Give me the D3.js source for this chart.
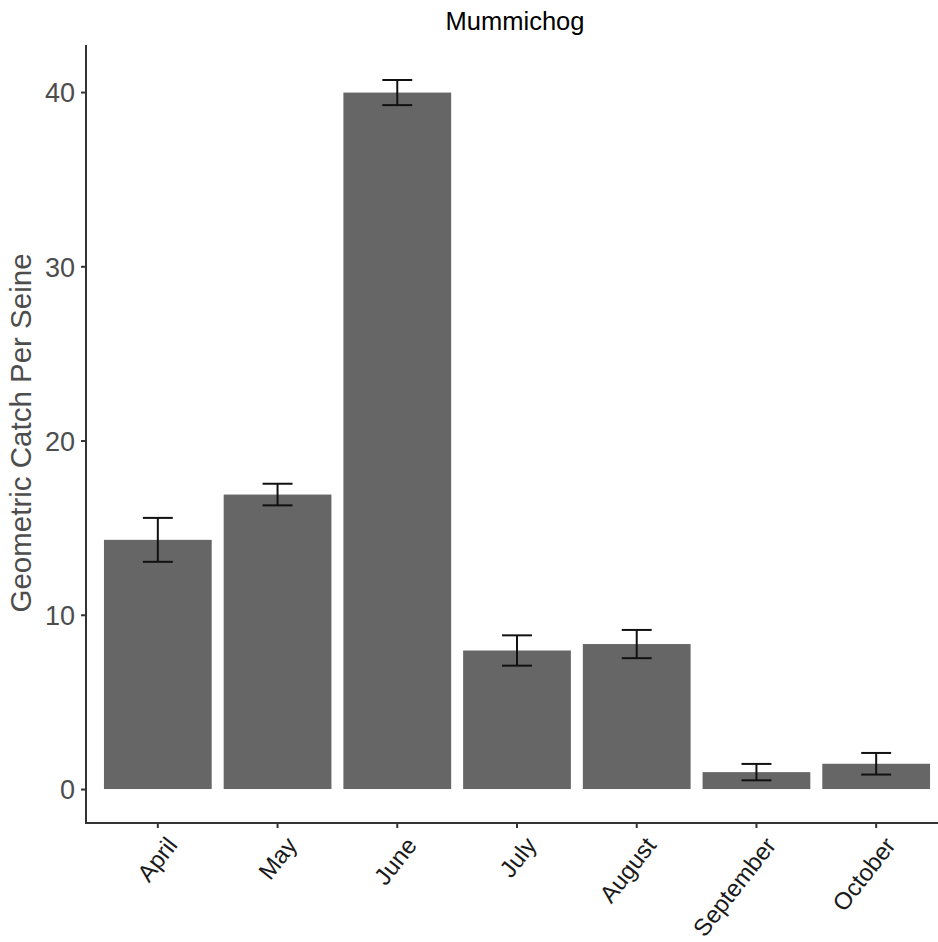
<!DOCTYPE html>
<html>
<head>
<meta charset="utf-8">
<script src="https://cdn.jsdelivr.net/npm/d3@7"></script>
<style>
  html, body { margin: 0; padding: 0; background: #fff; }
  svg { display: block; font-family: "Liberation Sans", Arial, sans-serif; }
</style>
</head>
<body>
<svg id="chart" width="938" height="942"></svg>
<script>
// Monthly geometric mean catch per seine haul, with standard error
const months = ["April", "May", "June", "July", "August", "September", "October"];
const catchMean = [14.3, 16.9, 39.97, 7.95, 8.32, 0.97, 1.45];
const catchSE = [1.26, 0.62, 0.72, 0.87, 0.81, 0.47, 0.62];
const yTicks = [0, 10, 20, 30, 40];

const chartTitle = "Mummichog";
const yTitle = "Geometric Catch Per Seine";

const W = 938, H = 942;
const panel = { left: 86, top: 45, bottom: 823, right: 948 };

const svg = d3.select("#chart");

const x = d3.scaleBand()
  .domain(months)
  .range([panel.left, panel.right])
  .paddingInner(0.1)
  .paddingOuter(0.15);

const y = d3.scaleLinear()
  .domain([-1.95, 42.7])
  .range([panel.bottom, panel.top]);

const data = months.map((m, i) => ({ month: m, mean: catchMean[i], se: catchSE[i] }));

// Bars
svg.append("g")
  .selectAll("rect")
  .data(data)
  .join("rect")
  .attr("x", d => x(d.month))
  .attr("width", x.bandwidth())
  .attr("y", d => y(d.mean))
  .attr("height", d => y(0) - y(d.mean))
  .attr("fill", "#666666");

// Error bars
const capHalf = x.step() * 0.125;
const eb = svg.append("g")
  .attr("stroke", "#111")
  .attr("stroke-width", 2)
  .attr("fill", "none");
data.forEach(d => {
  const cx = x(d.month) + x.bandwidth() / 2;
  const lo = y(d.mean - d.se), hi = y(d.mean + d.se);
  eb.append("line").attr("x1", cx).attr("x2", cx).attr("y1", lo).attr("y2", hi);
  eb.append("line").attr("x1", cx - capHalf).attr("x2", cx + capHalf).attr("y1", lo).attr("y2", lo);
  eb.append("line").attr("x1", cx - capHalf).attr("x2", cx + capHalf).attr("y1", hi).attr("y2", hi);
});

// Y axis
const yAxis = svg.append("g")
  .attr("transform", `translate(${panel.left},0)`)
  .call(d3.axisLeft(y).tickValues(yTicks).tickSize(5).tickPadding(6).tickFormat(d3.format("d")));
yAxis.select(".domain").attr("stroke", "#333").attr("stroke-width", 2)
  .attr("d", `M0,${panel.top}V${panel.bottom + 1}`);
yAxis.selectAll(".tick line").attr("stroke", "#333").attr("stroke-width", 2);
yAxis.selectAll(".tick text")
  .attr("fill", "#4d4d4d")
  .style("font-size", "27px")
  .attr("dy", "0.36em");

// X axis
const xAxis = svg.append("g")
  .attr("transform", `translate(0,${panel.bottom})`)
  .call(d3.axisBottom(x).tickSize(5).tickSizeOuter(0));
xAxis.select(".domain").attr("stroke", "#333").attr("stroke-width", 2)
  .attr("d", `M${panel.left - 1},0H${W}`);
xAxis.selectAll(".tick line").attr("stroke", "#333").attr("stroke-width", 2);
xAxis.selectAll(".tick text")
  .attr("fill", "#1a1a1a")
  .style("font-size", "24px")
  .attr("text-anchor", "end")
  .attr("dy", "0.72em")
  .attr("y", 0)
  .attr("transform", "translate(7,12) rotate(-52)");

// Titles
svg.append("text")
  .attr("x", 515)
  .attr("y", 30)
  .attr("text-anchor", "middle")
  .attr("fill", "#000")
  .style("font-size", "25.5px")
  .text(chartTitle);

svg.append("text")
  .attr("transform", `translate(31,433) rotate(-90)`)
  .attr("text-anchor", "middle")
  .attr("fill", "#4d4d4d")
  .style("font-size", "29.5px")
  .text(yTitle);
</script>
</body>
</html>
